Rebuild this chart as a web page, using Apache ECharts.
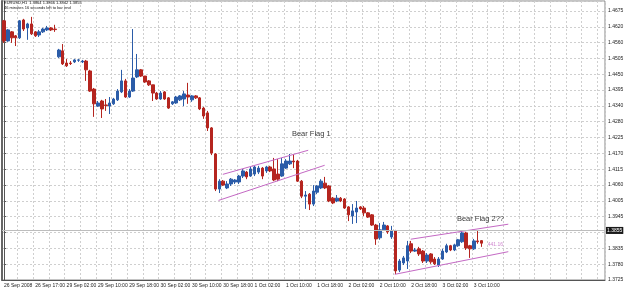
<!DOCTYPE html>
<html>
<head>
<meta charset="utf-8">
<script src="https://cdn.jsdelivr.net/npm/echarts@6/dist/echarts.min.js"></script>
<style>
html,body{margin:0;padding:0;background:#fff}
#chart{width:625px;height:292px}
</style>
</head>
<body>
<div id="chart"></div>
<script>
// EURUSD H1 bars, 26 Sep 2008 09:00 -> 3 Oct 2008 11:00, [open, close, low, high]
var candles = [
  [1.4640,1.4569,1.4562,1.4643],[1.4569,1.4608,1.4566,1.4611],[1.4601,1.4580,1.4562,1.4604],[1.4587,1.4580,1.4551,1.4590],
  [1.4580,1.4640,1.4576,1.4643],[1.4643,1.4611,1.4604,1.4647],[1.4615,1.4629,1.4573,1.4633],[1.4629,1.4594,1.4590,1.4654],
  [1.4601,1.4587,1.4583,1.4604],[1.4590,1.4601,1.4583,1.4608],[1.4601,1.4611,1.4597,1.4615],[1.4608,1.4615,1.4604,1.4622],
  [1.4615,1.4608,1.4604,1.4618],[1.4611,1.4609,1.4601,1.4626],
  [1.4513,1.4537,1.4509,1.4541],[1.4534,1.4488,1.4484,1.4558],[1.4491,1.4481,1.4477,1.4505],[1.4491,1.4489,1.4484,1.4498],
  [1.4495,1.4502,1.4491,1.4505],[1.4501,1.4502,1.4495,1.4505],[1.4495,1.4498,1.4491,1.4502],[1.4498,1.4467,1.4428,1.4502],
  [1.4463,1.4392,1.4389,1.4467],[1.4399,1.4347,1.4301,1.4403],[1.4339,1.4350,1.4336,1.4357],[1.4357,1.4329,1.4297,1.4361],
  [1.4343,1.4341,1.4322,1.4364],[1.4339,1.4350,1.4311,1.4371],[1.4347,1.4364,1.4343,1.4368],[1.4361,1.4392,1.4357,1.4399],
  [1.4389,1.4428,1.4385,1.4467],[1.4428,1.4371,1.4368,1.4435],[1.4371,1.4392,1.4368,1.4399],[1.4392,1.4438,1.4389,1.4611],
  [1.4442,1.4467,1.4438,1.4523],[1.4467,1.4445,1.4442,1.4470],[1.4445,1.4424,1.4421,1.4445],[1.4428,1.4414,1.4410,1.4431],
  [1.4414,1.4385,1.4357,1.4414],[1.4385,1.4364,1.4361,1.4389],[1.4364,1.4385,1.4361,1.4392],[1.4389,1.4364,1.4361,1.4392],
  [1.4368,1.4332,1.4329,1.4371],[1.4347,1.4354,1.4343,1.4357],[1.4350,1.4371,1.4347,1.4375],[1.4361,1.4375,1.4357,1.4378],
  [1.4364,1.4382,1.4339,1.4392],[1.4378,1.4371,1.4347,1.4421],[1.4361,1.4375,1.4354,1.4378],[1.4375,1.4368,1.4364,1.4378],
  [1.4368,1.4329,1.4325,1.4371],[1.4332,1.4304,1.4294,1.4336],[1.4315,1.4262,1.4251,1.4322],[1.4262,1.4173,1.4166,1.4265],
  [1.4170,1.4046,1.4039,1.4173],[1.4046,1.4074,1.4032,1.4081],[1.4074,1.4060,1.4057,1.4078],[1.4050,1.4064,1.4046,1.4074],
  [1.4064,1.4081,1.4057,1.4085],[1.4071,1.4078,1.4064,1.4081],[1.4071,1.4092,1.4064,1.4096],[1.4092,1.4110,1.4085,1.4117],
  [1.4106,1.4089,1.4081,1.4110],[1.4092,1.4117,1.4089,1.4124],[1.4099,1.4124,1.4092,1.4128],[1.4106,1.4120,1.4099,1.4128],
  [1.4120,1.4092,1.4081,1.4124],[1.4110,1.4124,1.4103,1.4128],[1.4124,1.4110,1.4106,1.4128],[1.4117,1.4078,1.4074,1.4156],
  [1.4099,1.4081,1.4074,1.4152],[1.4092,1.4135,1.4089,1.4156],[1.4120,1.4145,1.4117,1.4152],[1.4135,1.4145,1.4131,1.4170],
  [1.4145,1.4142,1.4120,1.4170],[1.4145,1.4074,1.4071,1.4149],[1.4074,1.4021,1.4014,1.4078],[1.4021,1.4025,1.3976,1.4039],
  [1.4028,1.3993,1.3972,1.4032],[1.3993,1.4039,1.3986,1.4060],[1.4035,1.4057,1.4028,1.4060],[1.4050,1.4074,1.4046,1.4081],
  [1.4067,1.4050,1.4046,1.4089],[1.4057,1.4004,1.4000,1.4060],[1.4014,1.3997,1.3993,1.4018],[1.4004,1.4014,1.4000,1.4025],
  [1.4014,1.4004,1.4000,1.4018],[1.4011,1.3979,1.3976,1.4014],[1.3983,1.3955,1.3933,1.3986],[1.3951,1.3969,1.3923,1.3993],
  [1.3965,1.3979,1.3926,1.4004],[1.3983,1.3976,1.3972,1.3986],[1.3979,1.3962,1.3951,1.3986],[1.3962,1.3947,1.3944,1.3965],
  [1.3955,1.3919,1.3916,1.3958],[1.3919,1.3870,1.3849,1.3923],[1.3874,1.3902,1.3867,1.3926],[1.3902,1.3919,1.3898,1.3930],
  [1.3916,1.3895,1.3888,1.3919],[1.3877,1.3898,1.3870,1.3916],[1.3898,1.3757,1.3746,1.3902],[1.3760,1.3792,1.3753,1.3799],
  [1.3785,1.3803,1.3778,1.3810],[1.3792,1.3846,1.3764,1.3863],[1.3853,1.3827,1.3820,1.3863],[1.3827,1.3831,1.3824,1.3838],
  [1.3835,1.3817,1.3810,1.3842],[1.3827,1.3792,1.3785,1.3831],[1.3792,1.3813,1.3785,1.3820],[1.3817,1.3789,1.3782,1.3820],
  [1.3799,1.3782,1.3778,1.3806],[1.3778,1.3799,1.3771,1.3806],[1.3799,1.3827,1.3796,1.3835],[1.3824,1.3846,1.3820,1.3853],
  [1.3846,1.3831,1.3827,1.3849],[1.3831,1.3849,1.3827,1.3853],[1.3846,1.3867,1.3842,1.3870],[1.3860,1.3891,1.3856,1.3898],
  [1.3891,1.3838,1.3831,1.3895],[1.3846,1.3835,1.3803,1.3849],[1.3835,1.3863,1.3831,1.3870],[1.3863,1.3860,1.3853,1.3898],
  [1.3864,1.3855,1.3842,1.3866]
];
var slotCount = 154; // visible bar slots, incl. the empty chart shift on the right
var timeLabels = ['26 Sep 2008','26 Sep 17:00','29 Sep 02:00','29 Sep 10:00','29 Sep 18:00','30 Sep 02:00','30 Sep 10:00','30 Sep 18:00',
  '1 Oct 02:00','1 Oct 10:00','1 Oct 18:00','2 Oct 02:00','2 Oct 10:00','2 Oct 18:00','3 Oct 02:00','3 Oct 10:00'];
var priceLabels = ['1.3725','1.3780','1.3835','1.3890','1.3945','1.4005','1.4060','1.4115','1.4170','1.4225','1.4280','1.4340',
  '1.4395','1.4450','1.4505','1.4560','1.4620','1.4675'];
var priceMin = 1.3725, priceMax = 1.4710, priceStep = 0.005588;
var bid = 1.3855;
// trend lines, [bar index, price]
var flag1Upper = [[55.9,1.4098],[77.7,1.4183]];
var flag1Lower = [[54.8,1.4006],[81.9,1.4130]];
var flag2Upper = [[103.9,1.3869],[128.8,1.3922]];
var flag2Lower = [[99.8,1.3745],[128.8,1.3825]];
var notes = [{name:'Bear Flag 1', value:[78.5,1.4241]},{name:'Bear Flag 2??', value:[121.7,1.3940]}];
var tagNote = [{name:'441.16', value:[125.5,1.3850]}];

var slots = [];
for (var i = 0; i < slotCount; i++) slots.push(String(i));

var chart = echarts.init(document.getElementById('chart'));
var fnt = 'Liberation Sans, Arial, sans-serif';
var grid = '#cfcfcf';
var trend = function(d) {
  return {type:'line', xAxisIndex:1, data:d, symbol:'none', silent:true, animation:false,
    lineStyle:{color:'#c469c4', width:1}};
};

chart.setOption({
  animation: false,
  backgroundColor: '#fff',
  title: {text:'EURUSD,H1  1.3864 1.3866 1.3842 1.3855', subtext:'46 minutes 16 seconds left to bar end',
    left:4, top:1, padding:0, itemGap:1,
    textStyle:{fontSize:4, fontWeight:'normal', color:'#111', fontFamily:fnt},
    subtextStyle:{fontSize:4, color:'#111', fontFamily:fnt}},
  grid: {left:2, right:20, top:1, bottom:12, containLabel:false, outerBoundsMode:'none',
    show:true, borderColor:'#888', borderWidth:1},
  xAxis: [{
    type:'category', data:slots, boundaryGap:true,
    axisLine:{lineStyle:{color:'#555'}},
    axisTick:{interval:7, length:3, lineStyle:{color:'#555'}},
    axisLabel:{interval:7, align:'left', margin:3, fontSize:5, color:'#222', fontFamily:fnt,
      formatter:function(v, idx){ return timeLabels[idx/8] || ''; }},
    splitLine:{show:true, interval:3, lineStyle:{color:grid, type:[2,2]}}
  }, {
    type:'value', min:-0.5, max:slotCount-0.5, show:false
  }],
  yAxis: [{
    type:'value', position:'right', min:priceMin, max:priceMax, interval:priceStep, scale:true,
    axisLine:{show:true, lineStyle:{color:'#555'}},
    axisTick:{show:true, length:2, lineStyle:{color:'#555'}},
    axisLabel:{fontSize:5, color:'#222', margin:3, fontFamily:fnt, showMaxLabel:false,
      formatter:function(v){
        var k = Math.round((v - priceMin) / priceStep);
        if (Math.abs(v - (priceMin + k * priceStep)) > 1e-5) return '';
        return priceLabels[k] || '';
      }},
    splitLine:{show:true, lineStyle:{color:grid, type:[2,2]}}
  }, {
    // heavy left frame of the chart window
    type:'value', position:'left', min:priceMin, max:priceMax,
    axisLine:{show:true, lineStyle:{color:'#666', width:2}},
    axisTick:{show:false}, axisLabel:{show:false}, splitLine:{show:false}
  }],
  series: [{
    type:'candlestick', data:candles, barWidth:3,
    itemStyle:{color:'#2b5ca8', color0:'#b5251f', borderColor:'#2b5ca8', borderColor0:'#b5251f', borderWidth:1},
    markLine:{symbol:'none', silent:true, animation:false,
      lineStyle:{color:'#bdbdbd', type:'solid', width:1},
      label:{position:'end', formatter:String(bid), backgroundColor:'#1a1a1a', color:'#fff', fontSize:5,
        fontFamily:fnt, padding:[1,1,1,1], distance:1},
      data:[{yAxis:bid}]}
  },
  trend(flag1Upper), trend(flag1Lower), trend(flag2Upper), trend(flag2Lower),
  {
    type:'scatter', xAxisIndex:1, data:notes, symbolSize:0, silent:true,
    label:{show:true, position:'inside', formatter:'{b}', fontSize:7.5, color:'#000', fontFamily:fnt}
  }, {
    type:'scatter', xAxisIndex:1, data:tagNote, symbolSize:0, silent:true,
    label:{show:true, position:'inside', formatter:'{b}', fontSize:5, color:'#c469c4', fontFamily:fnt}
  }]
});
</script>
</body>
</html>
